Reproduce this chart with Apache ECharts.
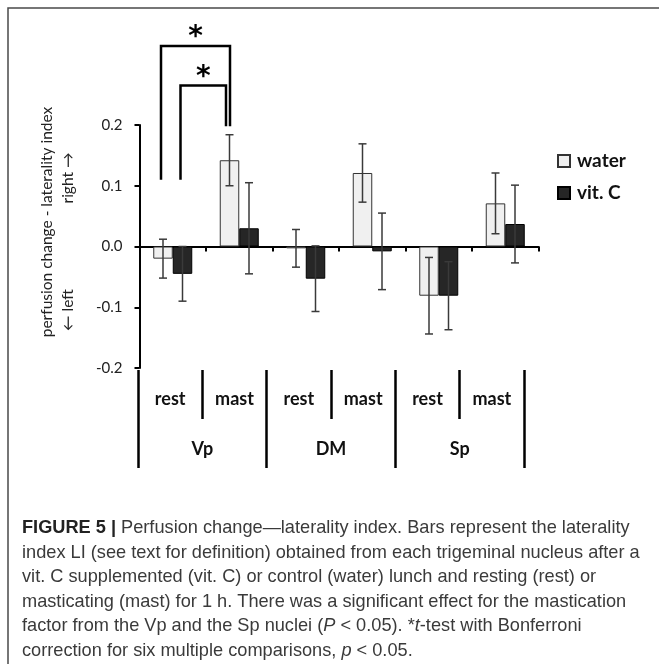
<!DOCTYPE html>
<html>
<head>
<meta charset="utf-8">
<script src="https://cdn.jsdelivr.net/npm/echarts@6/dist/echarts.min.js"></script>
<style>
  html, body { margin: 0; padding: 0; background: #fff; }
  #chart { width: 659px; height: 664px; }
</style>
</head>
<body>
<div id="chart"></div>
<script>
// bars: Vp rest, Vp mast, DM rest, DM mast, Sp rest, Sp mast
const barKeys = ["Vp rest", "Vp mast", "DM rest", "DM mast", "Sp rest", "Sp mast"];
const subLabels = ["rest", "mast", "rest", "mast", "rest", "mast"];
const groupLabels = ["Vp", "DM", "Sp"];
const water = [-0.020, 0.142, -0.003, 0.121, -0.081, 0.071];
const waterErr = [0.032, 0.042, 0.031, 0.048, 0.063, 0.050];
const vitC = [-0.045, 0.030, -0.053, -0.008, -0.081, 0.037];
const vitCErr = [0.045, 0.075, 0.054, 0.063, 0.056, 0.064];
const yTicks = [-0.2, -0.1, 0.0, 0.1, 0.2];

// significance brackets: [left bar, left side, right bar, right side, left foot, top, right foot]
const brackets = [
  [0, -1, 1, -1, 0.11, 0.33, 0.198],
  [0, 1, 1, -1, 0.11, 0.265, 0.198],
];

const BAR_W = 19.5;
const FONT = "Lato";

const chart = echarts.init(document.getElementById("chart"));

const errData = [];
water.forEach((v, i) => errData.push([i, v, waterErr[i], -1]));
vitC.forEach((v, i) => errData.push([i, v, vitCErr[i], 1]));

const option = {
  animation: false,
  textStyle: { fontFamily: FONT },
  grid: [
    { left: 139.5, right: 120.5, top: 125, bottom: 296 },
    { left: 138, right: 135, top: 370, height: 98 },
  ],
  legend: {
    data: ["water", "vit. C"],
    orient: "vertical",
    left: 557,
    top: 151,
    padding: 0,
    itemWidth: 12,
    itemHeight: 12,
    itemGap: 12,
    icon: "rect",
    textStyle: { fontFamily: FONT, fontSize: 19, fontWeight: "bold", color: "#111", lineHeight: 20, padding: [0, 0, 0, 2] },
  },
  xAxis: [
    {
      type: "category",
      data: barKeys,
      gridIndex: 0,
      axisLine: { onZero: true, lineStyle: { color: "#000", width: 2 } },
      axisTick: { show: true, length: 5, lineStyle: { color: "#000", width: 2 } },
      axisLabel: { show: false },
    },
    {
      type: "category",
      data: subLabels,
      gridIndex: 1,
      position: "top",
      axisLine: { show: false, onZero: false },
      axisTick: { show: true, inside: true, length: 49, lineStyle: { color: "#000", width: 2.5 } },
      axisLabel: { inside: true, margin: 20, fontFamily: FONT, fontSize: 18, fontWeight: "bold", color: "#111" },
    },
    {
      type: "category",
      data: groupLabels,
      gridIndex: 1,
      position: "bottom",
      axisLine: { show: false, onZero: false },
      axisTick: { show: true, inside: true, length: 98, lineStyle: { color: "#000", width: 2.5 } },
      axisLabel: { inside: true, margin: 10, fontFamily: FONT, fontSize: 18, fontWeight: "bold", color: "#111" },
    },
  ],
  yAxis: [
    {
      type: "value",
      gridIndex: 0,
      min: yTicks[0],
      max: yTicks[yTicks.length - 1],
      interval: 0.1,
      splitLine: { show: false },
      axisLine: { show: true, lineStyle: { color: "#000", width: 2 } },
      axisTick: { show: true, length: 5, lineStyle: { color: "#000", width: 2 } },
      axisLabel: {
        margin: 17,
        fontFamily: FONT,
        fontSize: 15,
        color: "#222",
        formatter: (v) => v.toFixed(1),
      },
    },
    { type: "value", gridIndex: 1, show: false },
  ],
  series: [
    {
      name: "water",
      type: "bar",
      data: water,
      barWidth: BAR_W,
      barGap: "0%",
      itemStyle: { color: "#f0f0f0", borderColor: "#333", borderWidth: 1 },
    },
    {
      name: "vit. C",
      type: "bar",
      data: vitC,
      barWidth: BAR_W,
      barGap: "0%",
      itemStyle: { color: "#262626", borderColor: "#000", borderWidth: 1 },
    },
    {
      type: "custom",
      data: errData,
      z: 5,
      renderItem: (params, api) => {
        const i = api.value(0), v = api.value(1), e = api.value(2), side = api.value(3);
        const c = api.coord([i, v]);
        const x = c[0] + side * BAR_W / 2;
        const yt = api.coord([i, v + e])[1];
        const yb = api.coord([i, v - e])[1];
        const st = { stroke: "#3a3a3a", lineWidth: 1.5 };
        return {
          type: "group",
          children: [
            { type: "line", shape: { x1: x, y1: yt, x2: x, y2: yb }, style: st },
            { type: "line", shape: { x1: x - 4, y1: yt, x2: x + 4, y2: yt }, style: st },
            { type: "line", shape: { x1: x - 4, y1: yb, x2: x + 4, y2: yb }, style: st },
          ],
        };
      },
    },
    {
      type: "custom",
      data: brackets,
      clip: false,
      z: 5,
      renderItem: (params, api) => {
        const li = api.value(0), ls = api.value(1), ri = api.value(2), rs = api.value(3);
        const yl = api.value(4), yt = api.value(5), yr = api.value(6);
        const nudge = params.dataIndex === 1 ? -4 : 0;
        const xl = api.coord([li, 0])[0] + ls * BAR_W / 2 - 2;
        const xr = api.coord([ri, 0])[0] + rs * BAR_W / 2 + nudge + 0.5;
        const pl = api.coord([li, yl])[1];
        const pt = api.coord([li, yt])[1];
        const pr = api.coord([ri, yr])[1];
        return {
          type: "group",
          children: [
            {
              type: "polyline",
              shape: { points: [[xl, pl], [xl, pt], [xr, pt], [xr, pr]] },
              style: { stroke: "#000", lineWidth: 2.5, fill: null },
            },
            {
              type: "text",
              x: (xl + xr) / 2,
              y: pt - 8,
              style: {
                text: "*",
                fontFamily: "DejaVu Sans",
                fontSize: 28,
                fontWeight: "bold",
                fill: "#000",
                align: "center",
                verticalAlign: "middle",
              },
            },
          ],
        };
      },
    },
  ],
  graphic: [
    {
      type: "polyline",
      shape: { points: [[8, 664], [8, 8], [659, 8]] },
      style: { stroke: "#4a4a4a", lineWidth: 1.5, fill: null },
    },
    {
      type: "text",
      x: 47,
      y: 222,
      rotation: Math.PI / 2,
      style: { text: "perfusion change - laterality index", fontFamily: FONT, fontSize: 15.5, fill: "#222", align: "center", verticalAlign: "middle" },
    },
    {
      type: "text",
      x: 68,
      y: 178,
      rotation: Math.PI / 2,
      style: { text: "right \u2192", fontFamily: FONT, fontSize: 15.5, fill: "#222", align: "center", verticalAlign: "middle" },
    },
    {
      type: "text",
      x: 68,
      y: 310,
      rotation: Math.PI / 2,
      style: { text: "\u2190 left", fontFamily: FONT, fontSize: 15.5, fill: "#222", align: "center", verticalAlign: "middle" },
    },
  ],
};

// figure caption, one text per printed line
const captionLines = [
  "{b|FIGURE 5 |} Perfusion change\u2014laterality index. Bars represent the laterality",
  "index LI (see text for definition) obtained from each trigeminal nucleus after a",
  "vit. C supplemented (vit. C) or control (water) lunch and resting (rest) or",
  "masticating (mast) for 1 h. There was a significant effect for the mastication",
  "factor from the Vp and the Sp nuclei ({i|P} < 0.05). *{i|t}-test with Bonferroni",
  "correction for six multiple comparisons, {i|p} < 0.05.",
];
const capFont = { fontFamily: "Liberation Sans", fontSize: 18.2, fill: "#3a3a3a" };
captionLines.forEach((line, k) => {
  option.graphic.push({
    type: "text",
    x: 22,
    y: 528 + k * 24.6,
    style: Object.assign({}, capFont, {
      text: line,
      verticalAlign: "middle",
      rich: {
        b: Object.assign({}, capFont, { fontWeight: "bold", fill: "#222" }),
        i: Object.assign({}, capFont, { fontStyle: "italic" }),
      },
    }),
  });
});

chart.setOption(option);
</script>
</body>
</html>
